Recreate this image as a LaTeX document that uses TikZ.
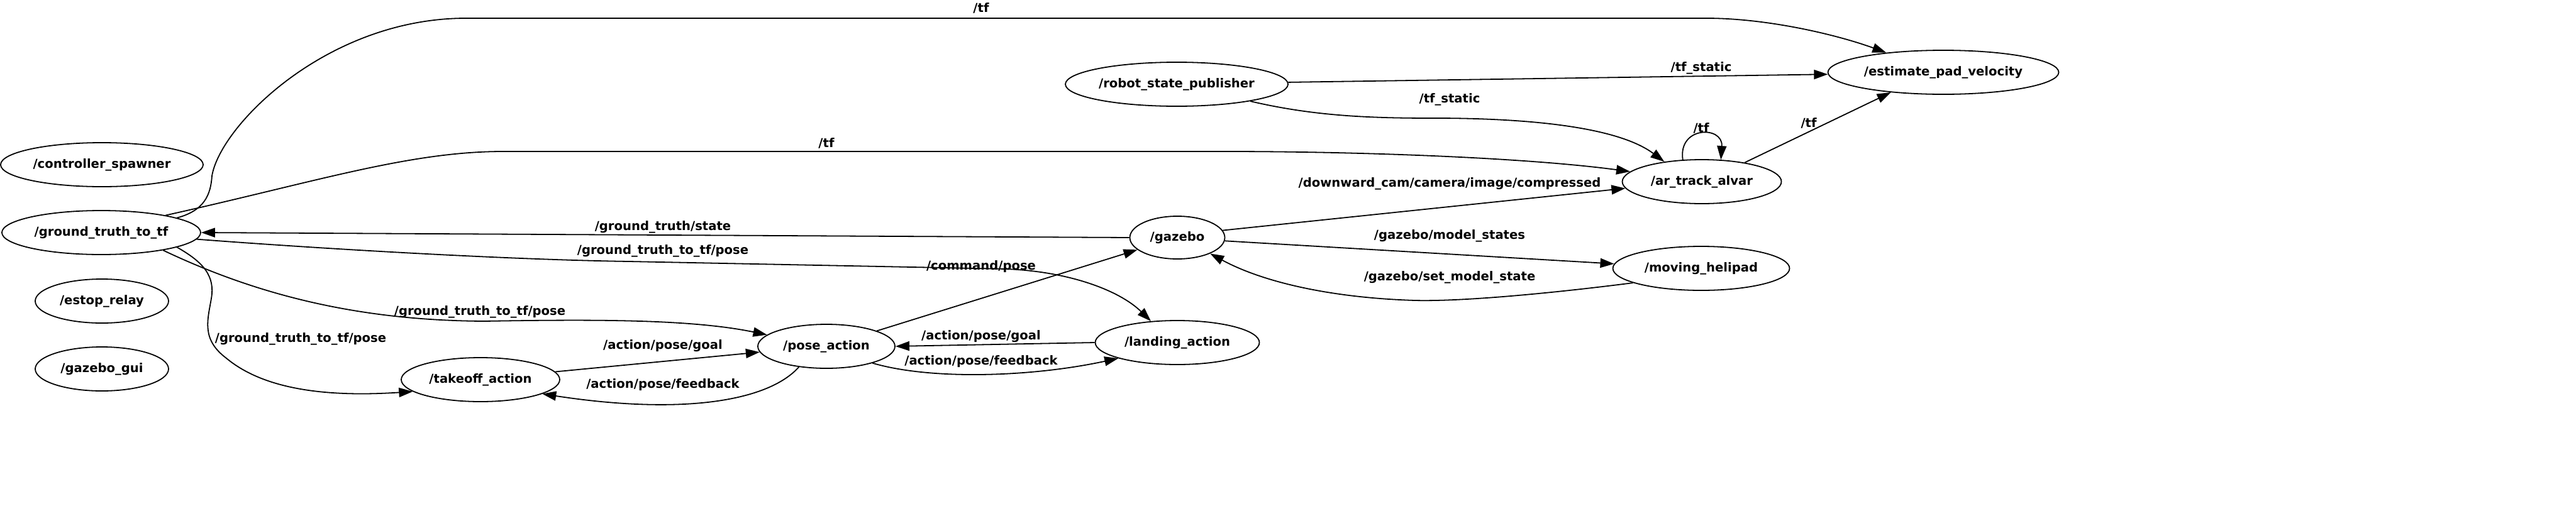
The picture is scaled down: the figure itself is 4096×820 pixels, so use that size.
\documentclass[tikz,border=0pt]{standalone}
\usepackage{fontspec}
\setmainfont{DejaVu Sans}
\usetikzlibrary{arrows.meta,shapes.geometric}
\newcommand\rosname[1]{\makebox[0pt]{#1}}

\tikzset{
  rosnode/.style={draw, ellipse, line width=0.9pt, inner sep=0pt, minimum height=35pt,
    font=\bfseries\fontsize{9.8}{11}\selectfont},
  topic/.style={inner sep=0pt, font=\bfseries\fontsize{9.8}{11}\selectfont},
  pub/.style={line width=0.9pt, -{Triangle[length=11pt,width=7.5pt]}},
}

\begin{document}
\begin{tikzpicture}[x=0.5pt, y=-0.5pt]
			%%%%% START %%%%%
			\useasboundingbox (0, 0) rectangle (4096, 820);
			
			\node[rosnode, minimum width=161pt] (cs) at (162, 262) {\rosname{/controller\_spawner}};
			\node[rosnode, minimum width=158pt] (gt) at (161, 370) {\rosname{/ground\_truth\_to\_tf}};
			\node[rosnode, minimum width=106pt] (er) at (162, 479) {\rosname{/estop\_relay}};
			\node[rosnode, minimum width=106pt] (gg) at (162, 587) {\rosname{/gazebo\_gui}};
			\node[rosnode, minimum width=126pt] (to) at (764, 604) {\rosname{/takeoff\_action}};
			\node[rosnode, minimum width=109pt] (pa) at (1314, 551) {\rosname{/pose\_action}};
			\node[rosnode, minimum width=130.5pt] (la) at (1872, 545) {\rosname{/landing\_action}};
			\node[rosnode, minimum width=75.5pt, minimum height=34pt] (gz) at (1872, 378) {\rosname{/gazebo}};
			\node[rosnode, minimum width=177pt] (rsp) at (1871, 134) {\rosname{/robot\_state\_publisher}};
			\node[rosnode, minimum width=126.5pt] (ata) at (2706, 289) {\rosname{/ar\_track\_alvar}};
			\node[rosnode, minimum width=140.5pt] (mh) at (2705, 427) {\rosname{/moving\_helipad}};
			\node[rosnode, minimum width=183.5pt] (epv) at (3090, 115) {\rosname{/estimate\_pad\_velocity}};
			
			% tf
			\draw[pub] (gt.11) .. controls (325, 335) and (335, 310) .. (337, 280) .. controls (350, 200) and (520, 29) .. (741, 29) -- (2713, 29) .. controls (2810, 29) and (2920, 55) .. (epv.161);
			\node[topic] (tfa) at (1560, 13) {/tf};
			\draw[pub] (gt.15) .. controls (500, 290) and (650, 241) .. (800, 241) -- (1950, 241) .. controls (2150, 241) and (2420, 250) .. (ata.172);
			\node[topic] (tfb) at (1314, 228) {/tf};
			\draw[pub] (ata.131) .. controls (2668, 200) and (2740, 200) .. (ata.49);
			\node[topic] (tfc) at (2705, 204) {/tf};
			\draw[pub] (ata.24) -- (epv.201);
			\node[topic] (tfd) at (2876, 196) {/tf};
			
			% tf_static
			\draw[pub] (rsp.1) -- (epv.181);
			\node[topic] (tfsa) at (2705, 108) {/tf\_static};
			\draw[pub] (rsp.347) .. controls (2090, 185) and (2180, 188) .. (2280, 188) .. controls (2420, 188) and (2570, 200) .. (ata.152);
			\node[topic] (tfsb) at (2305, 158) {/tf\_static};
			
			% ground truth
			\draw[pub] (gz.180) -- (gt.0);
			\node[topic] (gtst) at (1054, 361) {/ground\_truth/state};
			\draw[pub] (gt.356) .. controls (500, 395) and (800, 413) .. (1000, 416) -- (1600, 428) .. controls (1700, 432) and (1780, 462) .. (la.141);
			\node[topic] (gtpa) at (1054, 399) {/ground\_truth\_to\_tf/pose};
			\draw[pub] (gt.344) .. controls (400, 465) and (560, 510) .. (770, 511) .. controls (950, 508) and (1100, 508) .. (pa.169);
			\node[topic] (gtpb) at (763, 496) {/ground\_truth\_to\_tf/pose};
			\draw[pub] (gt.349) .. controls (325, 418) and (342, 440) .. (336, 475) .. controls (330, 510) and (320, 540) .. (360, 570) .. controls (420, 620) and (520, 632) .. (to.190);
			\node[topic] (gtpc) at (478, 539) {/ground\_truth\_to\_tf/pose};
			
			% actions
			\draw[pub] (to.6) -- (pa.185);
			\node[topic] (goala) at (1054, 550) {/action/pose/goal};
			\draw[pub] (pa.217) .. controls (1220, 640) and (1080, 660) .. (to.347);
			\node[topic] (fba) at (1054, 612) {/action/pose/feedback};
			\draw[pub] (la.180) -- (pa.0);
			\node[topic] (goalb) at (1560, 535) {/action/pose/goal};
			\draw[pub] (pa.340) .. controls (1480, 605) and (1640, 600) .. (la.195);
			\node[topic] (fbb) at (1560, 575) {/action/pose/feedback};
			\draw[pub] (pa.17) -- (gz.197);
			\node[topic] (cmd) at (1560, 424) {/command/pose};
			
			% gazebo
			\draw[pub] (gz.9) -- (ata.185);
			\node[topic] (cam) at (2305, 292) {/downward\_cam/camera/image/compressed};
			\draw[pub] (gz.356) -- (mh.177);
			\node[topic] (mst) at (2305, 375) {/gazebo/model\_states};
			\draw[pub] (mh.192) .. controls (2480, 465) and (2330, 480) .. (2250, 478) .. controls (2120, 474) and (2010, 450) .. (gz.334);
			\node[topic] (sms) at (2305, 441) {/gazebo/set\_model\_state};
			%%%%% END %%%%%
\end{tikzpicture}
\end{document}
